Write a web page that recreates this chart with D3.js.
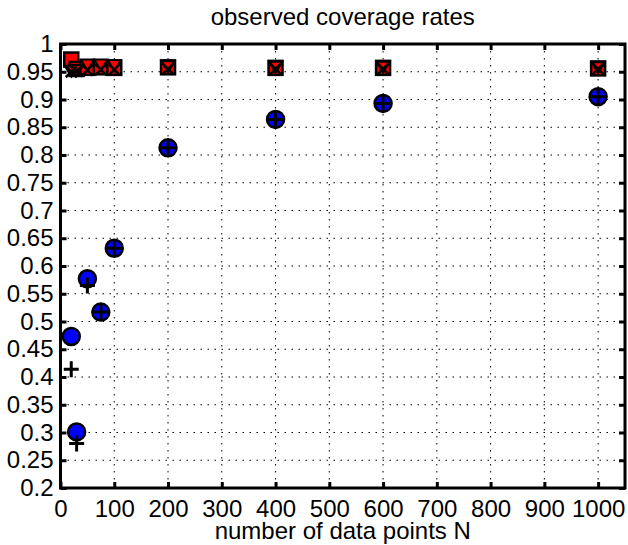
<!DOCTYPE html>
<html lang="en">
<head>
    <meta charset="UTF-8">
    <title>observed coverage rates</title>
    <style>
        body { margin: 0; background: #fff; }
        text { font-family: "Liberation Sans", Arial, sans-serif; fill: #000; }
    </style>
</head>
<body>
    <div id="container"></div>

    <script type="text/javascript" src="https://d3js.org/d3.v7.min.js"></script>
    <script type="text/javascript">
        // Data.
        var sampleSizes = [20, 30, 50, 75, 100, 200, 400, 600, 1000];
        var squareRates   = [0.972, 0.955, 0.957, 0.958, 0.957, 0.958, 0.957, 0.957, 0.956];
        var triangleRates = [0.952, 0.953, 0.963, 0.963, 0.962, 0.960, 0.959, 0.959, 0.958];
        var crossRates    = [0.950, 0.951, 0.953, 0.954, 0.954, 0.955, 0.955, 0.955, 0.955];
        var circleRates   = [0.473, 0.301, 0.577, 0.517, 0.632, 0.813, 0.864, 0.893, 0.905];
        var plusRates     = [0.414, 0.280, 0.565, 0.517, 0.632, 0.813, 0.864, 0.893, 0.905];

        var xTicks = d3.range(0, 1001, 100);
        var yTicks = d3.range(0, 17).map(function(i) { return +(0.2 + i * 0.05).toFixed(2); });

        var width = 628, height = 545;
        // (window.top is read-only, so these get their own names)
        var plotLeft = 60.5, plotRight = 625, plotTop = 44, plotBottom = 488;

        var svg = d3.select("#container")
            .append("svg")
            .attr("width", width)
            .attr("height", height);

        var x = d3.scaleLinear().domain([0, 1050]).range([plotLeft, plotRight]);
        var y = d3.scaleLinear().domain([0.2, 1]).range([plotBottom, plotTop]);

        // Dotted grid.
        var grid = svg.append("g").attr("class", "grid");
        grid.selectAll("line.gx")
            .data(xTicks.slice(1))
            .enter().append("line")
            .attr("x1", function(d) { return x(d); })
            .attr("x2", function(d) { return x(d); })
            .attr("y1", plotTop).attr("y2", plotBottom);
        grid.selectAll("line.gy")
            .data(yTicks.slice(1, -1))
            .enter().append("line")
            .attr("x1", plotLeft).attr("x2", plotRight)
            .attr("y1", function(d) { return y(d); })
            .attr("y2", function(d) { return y(d); });
        grid.selectAll("line")
            .attr("stroke", "#000")
            .attr("stroke-width", 1)
            .attr("stroke-dasharray", "1.5,5.5");

        // Axes with inward ticks on all four sides.
        function styleAxis(g) {
            g.select(".domain").remove();
            g.selectAll(".tick line").attr("stroke", "#000").attr("stroke-width", 3);
            g.selectAll(".tick text").style("font-size", "24px");
        }

        svg.append("g")
            .attr("transform", "translate(0," + plotBottom + ")")
            .call(d3.axisBottom(x).tickValues(xTicks).tickSize(-6).tickPadding(12).tickFormat(d3.format("d")))
            .call(styleAxis);
        svg.append("g")
            .attr("transform", "translate(0," + plotTop + ")")
            .call(d3.axisTop(x).tickValues(xTicks).tickSize(-6).tickFormat(""))
            .call(styleAxis);
        svg.append("g")
            .attr("transform", "translate(" + plotLeft + ",0)")
            .call(d3.axisLeft(y).tickValues(yTicks).tickSize(-6).tickPadding(7).tickFormat(d3.format("~g")))
            .call(styleAxis);
        svg.append("g")
            .attr("transform", "translate(" + plotRight + ",0)")
            .call(d3.axisRight(y).tickValues(yTicks).tickSize(-6).tickFormat(""))
            .call(styleAxis);

        // Box.
        svg.append("rect")
            .attr("x", plotLeft).attr("y", plotTop)
            .attr("width", plotRight - plotLeft).attr("height", plotBottom - plotTop)
            .attr("fill", "none")
            .attr("stroke", "#000")
            .attr("stroke-width", 3);

        var marks = svg.append("g").attr("class", "marks");

        function pairs(values) {
            return sampleSizes.map(function(n, i) { return [n, values[i]]; });
        }

        // Blue circles.
        marks.selectAll("circle.circ")
            .data(pairs(circleRates))
            .enter().append("circle")
            .attr("cx", function(d) { return x(d[0]); })
            .attr("cy", function(d) { return y(d[1]); })
            .attr("r", 8.5)
            .attr("fill", "#0000ff")
            .attr("stroke", "#000")
            .attr("stroke-width", 2.5);

        // Black plus signs.
        marks.selectAll("path.plus")
            .data(pairs(plusRates))
            .enter().append("path")
            .attr("transform", function(d) { return "translate(" + x(d[0]) + "," + y(d[1]) + ")"; })
            .attr("d", "M-7.5,0H7.5M0,-8V8")
            .attr("stroke", "#000")
            .attr("stroke-width", 3)
            .attr("fill", "none");

        // Red squares.
        marks.selectAll("rect.sq")
            .data(pairs(squareRates))
            .enter().append("rect")
            .attr("x", function(d) { return x(d[0]) - 7; })
            .attr("y", function(d) { return y(d[1]) - 7; })
            .attr("width", 14).attr("height", 14)
            .attr("fill", "#ff0000")
            .attr("stroke", "#000")
            .attr("stroke-width", 2.5);

        // Red downward triangles.
        marks.selectAll("path.tri")
            .data(pairs(triangleRates))
            .enter().append("path")
            .attr("transform", function(d) { return "translate(" + x(d[0]) + "," + y(d[1]) + ")"; })
            .attr("d", "M-6.5,-5H6.5L0,6Z")
            .attr("fill", "#ff0000")
            .attr("stroke", "#000")
            .attr("stroke-width", 2);

        // Black crosses.
        marks.selectAll("path.cross")
            .data(pairs(crossRates))
            .enter().append("path")
            .attr("transform", function(d) { return "translate(" + x(d[0]) + "," + y(d[1]) + ")"; })
            .attr("d", "M-5.5,-5.5L5.5,5.5M-5.5,5.5L5.5,-5.5")
            .attr("stroke", "#000")
            .attr("stroke-width", 2.5)
            .attr("fill", "none");

        // Title and axis label.
        svg.append("text")
            .attr("x", (plotLeft + plotRight) / 2)
            .attr("y", 25)
            .attr("text-anchor", "middle")
            .style("font-size", "24px")
            .text("observed coverage rates");

        svg.append("text")
            .attr("x", (plotLeft + plotRight) / 2)
            .attr("y", 539)
            .attr("text-anchor", "middle")
            .style("font-size", "24px")
            .text("number of data points N");
    </script>
</body>
</html>
